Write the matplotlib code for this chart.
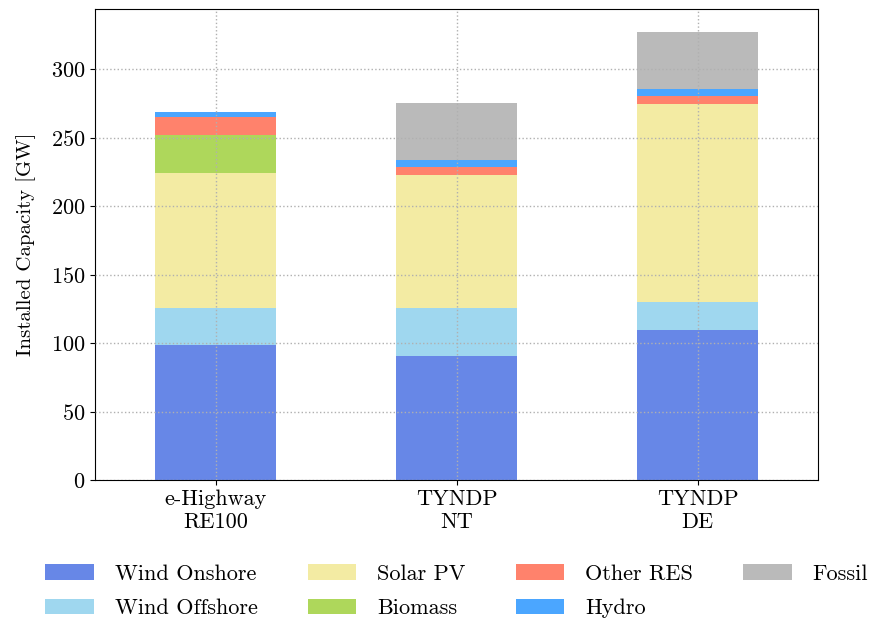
"""Installed capacity by scenario, stacked bars."""

import matplotlib

matplotlib.use("Agg")
import matplotlib.pyplot as plt
import numpy as np

plt.rcParams["font.family"] = "serif"
plt.rcParams["font.serif"] = ["cmr10", "DejaVu Serif"]
plt.rcParams["mathtext.fontset"] = "cm"
plt.rcParams["axes.formatter.use_mathtext"] = True
plt.rcParams["font.size"] = 16

scenarios = ["e-Highway\nRE100", "TYNDP\nNT", "TYNDP\nDE"]
carriers = ["Wind Onshore", "Wind Offshore", "Solar PV", "Biomass", "Other RES", "Hydro", "Fossil"]
wind_onshore = [98.3, 90.7, 109.7]
wind_offshore = [27.4, 35.0, 20.2]
solar_pv = [98.1, 97.1, 144.8]
biomass = [28.2, 0.0, 0.0]
other_res = [13.0, 5.4, 5.3]
hydro = [3.8, 5.4, 5.4]
fossil = [0.0, 41.8, 41.8]

COLORS = ["royalblue", "skyblue", "khaki", "yellowgreen", "tomato", "dodgerblue", "darkgray"]

fig, ax = plt.subplots(figsize=(8.73, 6.21), dpi=100)
x = np.arange(len(scenarios))
bottom = np.zeros(len(scenarios))
for label, values, color in zip(
    carriers,
    [wind_onshore, wind_offshore, solar_pv, biomass, other_res, hydro, fossil],
    COLORS,
):
    ax.bar(x, values, 0.5, bottom=bottom, color=color, alpha=0.8, label=label, zorder=2)
    bottom += np.array(values)

ax.set_xticks(x)
ax.set_xticklabels(scenarios)
ax.set_xlim(-0.5, 2.5)
ax.set_ylabel("Installed Capacity [GW]", fontsize=15, labelpad=11)
ax.grid(True, linestyle=":", color="#b0b0b0", linewidth=1, zorder=0)
ax.set_axisbelow(False)

ax.legend(
    loc="upper center",
    bbox_to_anchor=(0.5, -0.136),
    ncol=4,
    frameon=False,
    handlelength=2.2,
    handleheight=0.72,
    handletextpad=0.93,
    columnspacing=2.25,
    labelspacing=0.67,
)

fig.subplots_adjust(left=0.109, right=0.937, top=0.985, bottom=0.227)
fig.savefig("out.png", dpi=100)
